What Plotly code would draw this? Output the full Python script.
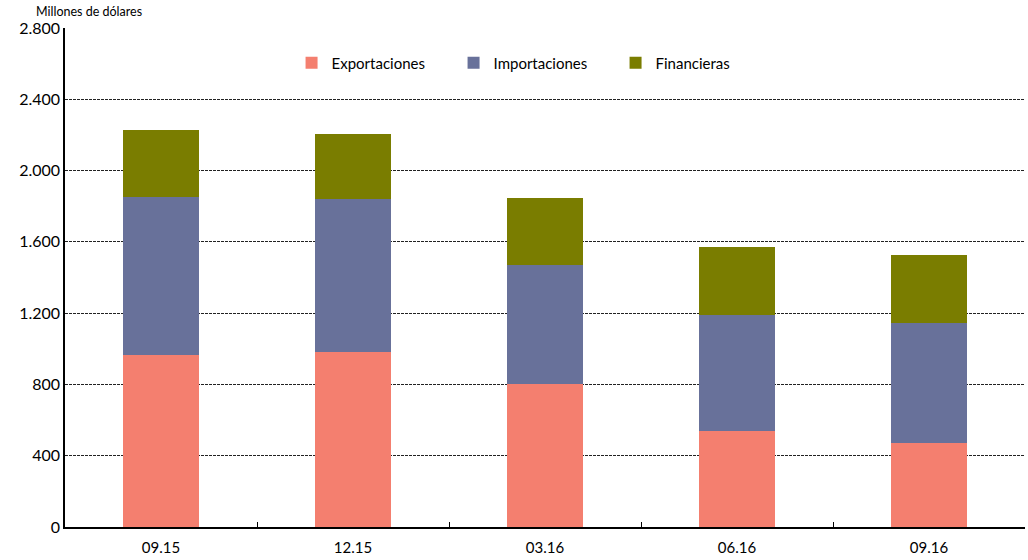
import plotly.graph_objects as go

# Quarter-end periods and portfolio breakdown (millions of dollars)
periodos = ["09.15", "12.15", "03.16", "06.16", "09.16"]
exportaciones = [966, 983, 803, 539, 470]
importaciones = [888, 857, 669, 652, 673]
financieras = [376, 368, 376, 382, 385]

y_ticks = [0, 400, 800, 1200, 1600, 2000, 2400, 2800]

colores = {
    "Exportaciones": "#F47F6F",
    "Importaciones": "#68719A",
    "Financieras": "#7A7D00",
}

fig = go.Figure()
for nombre, valores in [("Exportaciones", exportaciones),
                        ("Importaciones", importaciones),
                        ("Financieras", financieras)]:
    fig.add_trace(go.Bar(
        x=periodos, y=valores, name=nombre,
        marker=dict(color=colores[nombre], line=dict(width=0)),
    ))

font_family = "Lato, Open Sans, Liberation Sans, sans-serif"

fig.update_layout(
    barmode="stack",
    bargap=0.6,
    width=1028, height=560,
    margin=dict(l=65, r=3, t=28, b=33),
    plot_bgcolor="white", paper_bgcolor="white",
    separators=",.",
    font=dict(family=font_family, size=15, color="#000"),
    legend=dict(
        orientation="h", traceorder="normal",
        x=0.236, y=0.93, xanchor="left", yanchor="middle",
        entrywidth=117, entrywidthmode="pixels",
        font=dict(size=15), bgcolor="rgba(0,0,0,0)",
    ),
    showlegend=True,
)

fig.update_xaxes(
    type="category",
    showline=True, linecolor="#000", linewidth=1.5,
    ticks="inside", ticklen=5, tickcolor="#000", tickson="boundaries",
    showgrid=False, tickfont=dict(size=15), ticklabelstandoff=6,
)

fig.update_yaxes(
    range=[0, 2800], tickvals=y_ticks, tickformat=",d",
    showline=True, linecolor="#000", linewidth=1.5,
    showgrid=True, gridcolor="#222", gridwidth=1, griddash="3px,1px",
    zeroline=False, ticks="", tickfont=dict(size=16),
)

fig.add_annotation(
    text="Millones de dólares", xref="paper", yref="paper",
    x=-0.032, y=1.014, xanchor="left", yanchor="bottom",
    showarrow=False, font=dict(size=12.5),
)

fig.write_html("out.html")
